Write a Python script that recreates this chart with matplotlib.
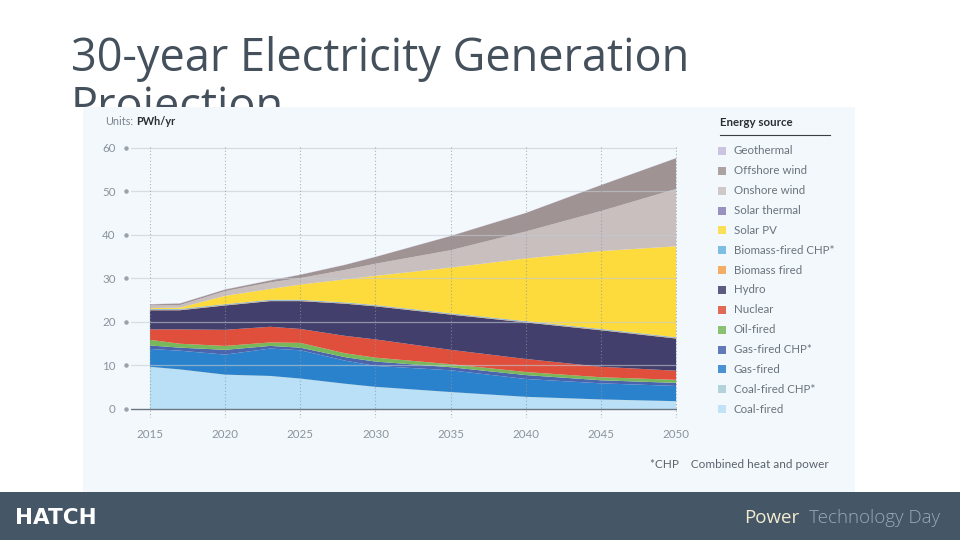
import matplotlib.pyplot as plt
from matplotlib.patches import Rectangle
from matplotlib.transforms import blended_transform_factory

# 年份与各能源发电量 (PWh/yr)
years = [2015, 2017, 2020, 2023, 2025, 2028, 2030, 2035, 2040, 2045, 2050]
coal_fired = [9.6, 9.0, 7.8, 7.5, 6.9, 5.7, 5.0, 3.8, 2.7, 2.1, 1.7]
coal_chp = [0.1, 0.1, 0.1, 0.1, 0.1, 0.1, 0.1, 0.1, 0.1, 0.1, 0.1]
gas_fired = [4.1, 4.3, 4.6, 6.3, 6.5, 5.3, 4.8, 5.0, 4.1, 3.7, 3.5]
gas_chp = [0.8, 0.7, 1.1, 0.6, 0.6, 0.8, 1.0, 0.7, 0.9, 0.7, 0.7]
oil_fired = [1.3, 0.9, 0.9, 0.8, 1.1, 0.9, 0.9, 0.7, 0.7, 0.7, 0.7]
nuclear = [2.4, 3.3, 3.7, 3.6, 3.2, 4.0, 4.2, 3.3, 3.0, 2.4, 2.1]
hydro = [4.4, 4.4, 5.6, 5.9, 6.4, 7.4, 7.6, 8.1, 8.4, 8.4, 7.4]
biomass_fired = [0.1, 0.1, 0.1, 0.1, 0.1, 0.1, 0.1, 0.1, 0.1, 0.1, 0.1]
biomass_chp = [0.15, 0.15, 0.15, 0.15, 0.15, 0.15, 0.15, 0.15, 0.15, 0.15, 0.15]
solar_pv = [0.2, 0.3, 1.9, 2.5, 3.5, 5.3, 6.7, 10.5, 14.4, 17.9, 20.9]
solar_thermal = [0.05, 0.05, 0.05, 0.05, 0.05, 0.05, 0.05, 0.05, 0.05, 0.05, 0.05]
onshore_wind = [0.6, 0.6, 1.1, 1.5, 1.5, 2.2, 2.8, 4.0, 6.2, 9.2, 13.2]
offshore_wind = [0.25, 0.35, 0.35, 0.45, 0.75, 1.15, 1.55, 3.25, 4.25, 5.95, 7.05]
geothermal = [0.05, 0.05, 0.05, 0.05, 0.05, 0.05, 0.05, 0.05, 0.05, 0.05, 0.05]

# 自下而上的堆叠顺序
layers = [coal_fired, coal_chp, gas_fired, gas_chp, oil_fired, nuclear, hydro,
          biomass_fired, biomass_chp, solar_thermal, solar_pv, onshore_wind,
          offshore_wind, geothermal]
layer_colors = ['#b9e0f7', '#a9ccd4', '#2b82cc', '#4a64ae', '#79b85a', '#e04f3b',
                '#433f6c', '#f4a149', '#6cb3df', '#8a7fb5', '#fedb3c', '#c9bfbf',
                '#a09393', '#c6badb']

# 图例（自上而下）
legend_labels = ['Geothermal', 'Offshore wind', 'Onshore wind', 'Solar thermal',
                 'Solar PV', 'Biomass-fired CHP*', 'Biomass fired', 'Hydro',
                 'Nuclear', 'Oil-fired', 'Gas-fired CHP*', 'Gas-fired',
                 'Coal-fired CHP*', 'Coal-fired']
legend_colors = ['#c6badb', '#a09393', '#c9bfbf', '#8a7fb5', '#fedb3c', '#6cb3df',
                 '#f4a149', '#433f6c', '#e04f3b', '#79b85a', '#4a64ae', '#2b82cc',
                 '#a9ccd4', '#b9e0f7']

W, H = 960, 540


def fx(px):
    return px / W


def fy(py):
    return 1 - py / H


fig = plt.figure(figsize=(9.6, 5.4), dpi=100)
fig.patch.set_facecolor('white')

# 标题（第二行被图片面板部分遮挡）
fig.text(fx(71), fy(71), '30-year Electricity Generation', fontsize=32.5,
         color='#44505c', family='Open Sans', ha='left', va='baseline', zorder=0.2)
t2 = fig.text(fx(71), fy(120), 'Projection', fontsize=32.5,
              color='#44505c', family='Open Sans', ha='left', va='baseline', zorder=0.2)
clip = Rectangle((0, fy(107)), 1, 1 - fy(107), transform=fig.transFigure)
t2.set_clip_path(clip)

# 浅色面板与底部栏
fig.add_artist(Rectangle((fx(83), fy(492)), fx(855) - fx(83), fy(107) - fy(492),
                         transform=fig.transFigure, facecolor='#f3f8fc',
                         edgecolor='none', zorder=0.5))
fig.add_artist(Rectangle((0, 0), 1, fy(492), transform=fig.transFigure,
                         facecolor='#455667', edgecolor='none', zorder=0.6))

ax = fig.add_axes([fx(131), fy(417.7), fx(677) - fx(131), fy(145.8) - fy(417.7)],
                  zorder=1)
ax.patch.set_visible(False)
ax.stackplot(years, layers, colors=layer_colors, linewidth=0, zorder=1)
ax.set_xlim(2013.74, 2050.06)
ax.set_ylim(-2, 60.5)

for v in range(10, 61, 10):
    ax.axhline(v, color='#c2ccd6', lw=0.9, alpha=0.6, zorder=2)
ax.axhline(0, color='#6b7682', lw=1.0, zorder=2)
for yr in range(2015, 2051, 5):
    ax.axvline(yr, color='#8c96a0', lw=0.8, linestyle=(0, (1, 2)), alpha=0.7, zorder=2)

for s in ax.spines.values():
    s.set_visible(False)
ax.set_xticks(range(2015, 2051, 5))
ax.set_yticks(range(0, 61, 10))
ax.tick_params(length=0, labelsize=8.3, labelcolor='#8a939c')
ax.tick_params(axis='y', pad=11)
ax.tick_params(axis='x', pad=8)
for lab in ax.get_xticklabels() + ax.get_yticklabels():
    lab.set_family('Lato')

trans = blended_transform_factory(ax.transAxes, ax.transData)
ax.scatter([-0.01] * 7, range(0, 61, 10), s=5, color='#9aa3ac', transform=trans,
           clip_on=False, zorder=3)

fig.text(fx(105), fy(122), 'Units:', fontsize=7.8, color='#7b848c', family='Lato',
         va='center', zorder=2)
fig.text(fx(136), fy(122), 'PWh/yr', fontsize=7.8, color='#2a2f36', family='Lato',
         weight='bold', va='center', zorder=2)

# 图例
fig.text(fx(720), fy(123), 'Energy source', fontsize=8.3, color='#2a2f36',
         family='Lato', weight='bold', va='center', zorder=2)
fig.add_artist(plt.Line2D([fx(720), fx(830)], [fy(135), fy(135)], color='#3a3f46',
                          lw=0.8, transform=fig.transFigure, zorder=2))
for i, (lab, col) in enumerate(zip(legend_labels, legend_colors)):
    yy = 151 + i * 19.85
    fig.add_artist(Rectangle((fx(718), fy(yy + 4)), fx(8), fx(8) * W / H,
                             transform=fig.transFigure, facecolor=col,
                             edgecolor='none', alpha=0.85, zorder=2))
    fig.text(fx(734), fy(yy), lab, fontsize=8.3, color='#6a737c', family='Lato',
             va='center', zorder=2)

fig.text(fx(650), fy(464), '*CHP    Combined heat and power', fontsize=8.5,
         color='#5a636c', family='Lato', va='center', zorder=2)

# 底部栏文字
fig.text(fx(15), fy(518), 'HATCH', fontsize=15.5, color='white', weight='bold',
         family='DejaVu Sans', va='center', zorder=2)
fig.text(fx(940), fy(518), 'Technology Day', fontsize=13.5, color='#9aa8b6',
         family='Open Sans', weight='light', va='center', ha='right', zorder=2)
fig.text(fx(799), fy(518), 'Power', fontsize=13.5, color='#f3ecd0',
         family='Open Sans', va='center', ha='right', zorder=2)

plt.savefig('out.png', dpi=100)
